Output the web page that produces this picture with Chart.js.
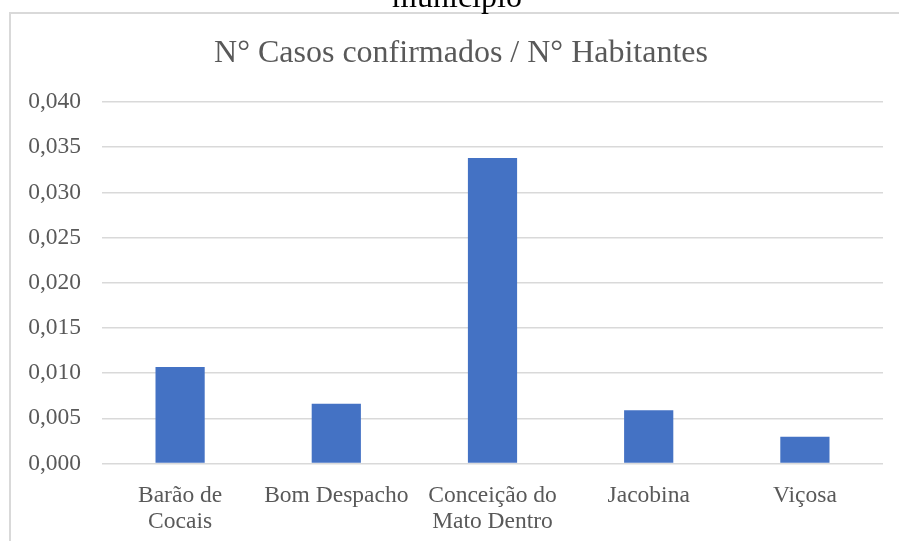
<!DOCTYPE html>
<html>
<head>
<meta charset="utf-8">
<script src="https://cdn.jsdelivr.net/npm/chart.js@4/dist/chart.umd.min.js"></script>
<style>
  html, body { margin: 0; padding: 0; background: #fff; overflow: hidden; }
  #wrap { position: relative; width: 899px; height: 541px; }
</style>
</head>
<body>
<div id="wrap"><canvas id="myChart" width="899" height="541"></canvas></div>
<script>
const categories = [
    ['Barão de', 'Cocais'],
    'Bom Despacho',
    ['Conceição do', 'Mato Dentro'],
    'Jacobina',
    'Viçosa',
];

const casosPorHabitante = [ 0.01067, 0.0066, 0.03379, 0.0059, 0.00297 ];

const yTickLabels = [ '0,000', '0,005', '0,010', '0,015', '0,020', '0,025', '0,030', '0,035', '0,040' ];

const chartTitle = 'N° Casos confirmados / N° Habitantes';
const textColor = '#595959';
const serif = '"Liberation Serif", "Times New Roman", serif';

// frame, clipped caption above the chart, and the chart title
const framePlugin = {
    id: 'frame',
    beforeDraw(chart) {
        const ctx = chart.ctx;
        ctx.save();
        ctx.fillStyle = '#fff';
        ctx.fillRect(0, 0, chart.width, chart.height);
        ctx.strokeStyle = '#d9d9d9';
        ctx.lineWidth = 2;
        ctx.strokeRect(10, 13, chart.width + 20, chart.height + 20);
        ctx.fillStyle = '#000';
        ctx.font = '32px ' + serif;
        ctx.textAlign = 'center';
        ctx.textBaseline = 'alphabetic';
        ctx.fillText('município', 457, 7);
        ctx.fillStyle = textColor;
        ctx.textBaseline = 'middle';
        ctx.fillText(chartTitle, 461, 54);
        ctx.restore();
    }
};

const data = {
    labels: categories,
    datasets: [{
        label: chartTitle,
        backgroundColor: '#4472C4',
        borderWidth: 0,
        data: casosPorHabitante,
        categoryPercentage: 1,
        barPercentage: 0.315,
    }]
};

const config = {
    type: 'bar',
    data: data,
    options: {
        responsive: false,
        animation: false,
        layout: { padding: { left: 0, right: 16, top: 102, bottom: 0 } },
        plugins: {
            legend: { display: false },
            tooltip: { enabled: false },
            title: { display: false }
        },
        scales: {
            x: {
                grid: { display: false },
                border: { display: false },
                ticks: {
                    color: textColor,
                    font: { family: serif, size: 23.5, lineHeight: 1.12 },
                    padding: 11,
                    maxRotation: 0,
                    autoSkip: false
                },
                afterFit(scale) { scale.height = 77.5; }
            },
            y: {
                min: 0,
                max: 0.04,
                grid: { color: '#d9d9d9', lineWidth: 1.5, drawTicks: false },
                border: { display: false },
                ticks: {
                    stepSize: 0.005,
                    color: textColor,
                    font: { family: serif, size: 23.5 },
                    padding: 21,
                    callback: function(value, index) { return yTickLabels[index]; }
                },
                afterFit(scale) { scale.width = 102; }
            }
        }
    },
    plugins: [framePlugin]
};

const myChart = new Chart(
    document.getElementById('myChart'),
    config
);
</script>
</body>
</html>
